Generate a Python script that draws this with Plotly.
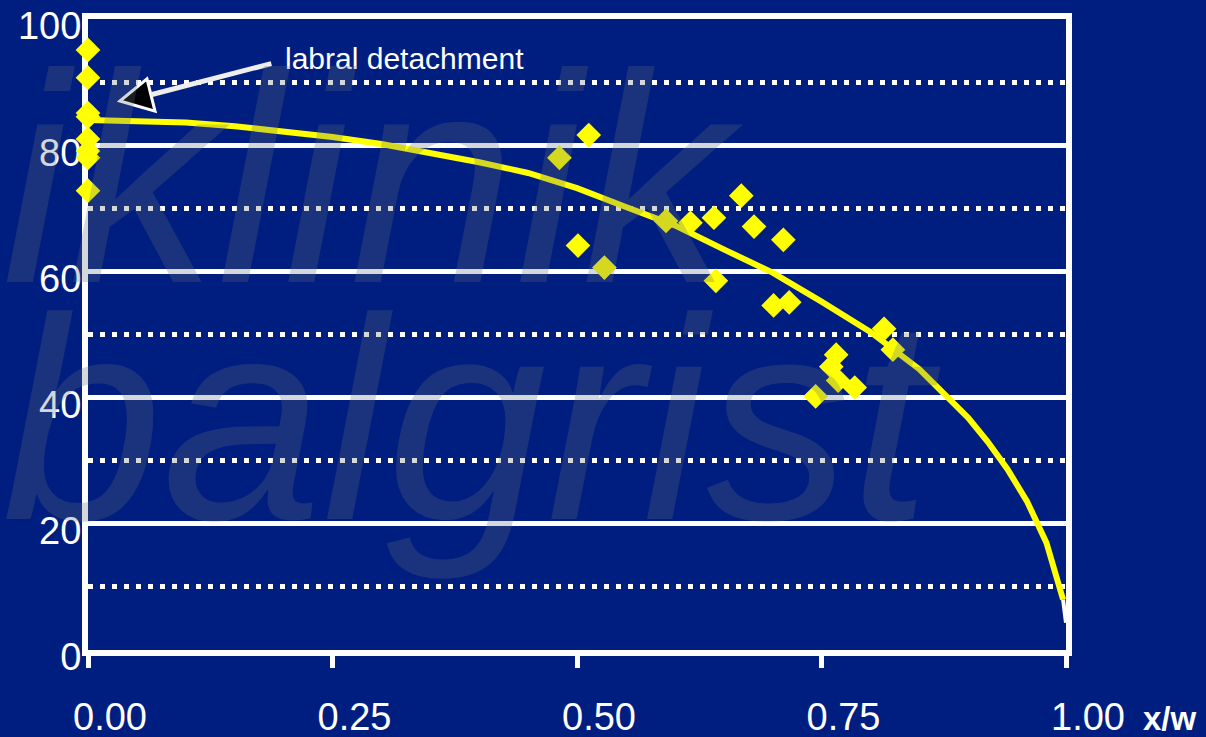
import plotly.graph_objects as go

# ---- data ----
pts_x = [0.0, 0.0, 0.0, 0.0, 0.0, 0.0, 0.0, 0.0,
         0.482, 0.512, 0.501, 0.528, 0.591, 0.616, 0.640, 0.668, 0.681, 0.711,
         0.642, 0.701, 0.717, 0.814, 0.823, 0.765, 0.760, 0.767, 0.784, 0.744]
pts_y = [95.1, 90.7, 85.1, 84.5, 81.0, 79.1, 78.0, 72.8,
         78.0, 81.6, 64.1, 60.6, 68.0, 67.7, 68.5, 72.0, 67.1, 65.0,
         58.5, 54.6, 55.1, 50.9, 47.6, 46.8, 44.9, 42.7, 41.6, 40.2]

curve_x = [0.0, 0.05, 0.10, 0.15, 0.20, 0.25, 0.30, 0.35, 0.40, 0.45, 0.50,
           0.55, 0.60, 0.65, 0.70, 0.75, 0.80, 0.85, 0.88, 0.90, 0.92, 0.94,
           0.96, 0.98, 0.997]
curve_y = [84.0, 83.9, 83.6, 83.0, 82.2, 81.3, 80.2, 78.8, 77.3, 75.6, 73.2,
           70.2, 67.3, 63.5, 59.8, 55.2, 50.4, 44.5, 40.0, 36.8, 33.0, 28.7,
           23.6, 17.0, 8.0]
tail_x = [0.997, 1.0]
tail_y = [8.0, 4.3]

x_ticks = [0.0, 0.25, 0.5, 0.75, 1.0]
x_ticklabels = ["0.00", "0.25", "0.50", "0.75", "1.00"]
y_ticks = [0, 20, 40, 60, 80, 100]
y_ticklabels = ["0", "20", "40", "60", "80", "100"]

BG = "#001E80"
YEL = "#FFFF00"
FONT = "Liberation Sans, Arial, sans-serif"

fig = go.Figure()
fig.add_trace(go.Scatter(x=curve_x, y=curve_y, mode="lines",
                         line=dict(color=YEL, width=6), cliponaxis=False,
                         hoverinfo="skip", showlegend=False))
fig.add_trace(go.Scatter(x=tail_x, y=tail_y, mode="lines",
                         line=dict(color="white", width=4), cliponaxis=False,
                         hoverinfo="skip", showlegend=False))
fig.add_trace(go.Scatter(x=pts_x, y=pts_y, mode="markers",
                         marker=dict(symbol="diamond", size=19, color=YEL,
                                     line=dict(width=0)),
                         cliponaxis=False, showlegend=False))

# arrow pointing at the labral detachment
fig.add_annotation(x=0.0644, y=88.0, ax=0.189, ay=93.0, axref="x", ayref="y",
                   xref="x", yref="y", showarrow=True, arrowhead=0,
                   arrowwidth=5, arrowcolor="#EEEEEE", text="")
fig.add_shape(type="path", xref="x", yref="y",
              path="M 0.0327 87.0 L 0.0603 90.5 L 0.0685 85.4 Z",
              fillcolor="black", line=dict(color="white", width=3))
fig.add_annotation(x=0.199, y=93.7, xref="x", yref="y", text="labral detachment",
                   showarrow=False, xanchor="left", yanchor="middle",
                   font=dict(family=FONT, size=30, color="white"))

# axis title "x/w"
fig.add_annotation(x=(1170 - 88) / 978, y=(650 - 718) / 631, xref="paper", yref="paper",
                   text="<b>x/w</b>", showarrow=False, xanchor="center", yanchor="middle",
                   font=dict(family=FONT, size=33, color="white"))

# watermark
WM = "rgba(100,110,120,0.27)"
fig.add_annotation(x=(0 - 88) / 978, y=(650 - 178) / 631, xref="paper", yref="paper",
                   text="iklinik", showarrow=False, xanchor="left", yanchor="middle",
                   font=dict(family=FONT, size=298, color=WM, style="italic"))
fig.add_annotation(x=(0 - 88) / 978, y=(650 - 420) / 631, xref="paper", yref="paper",
                   text="balgrist", showarrow=False, xanchor="left", yanchor="middle",
                   font=dict(family=FONT, size=288, color=WM, style="italic"))

fig.update_layout(
    width=1206, height=737,
    margin=dict(l=88, r=140, t=19, b=87, autoexpand=False),
    paper_bgcolor=BG, plot_bgcolor=BG,
    font=dict(family=FONT, color="white"),
    xaxis=dict(range=[0, 1], tickvals=x_ticks, ticktext=x_ticklabels,
               showgrid=False, zeroline=False, automargin=False,
               showline=True, linecolor="white", linewidth=6, mirror=True,
               ticks="outside", ticklen=12, tickwidth=5, tickcolor="white",
               tickfont=dict(size=38, color="white"),
               ticklabelshift=22, ticklabelstandoff=16,
               layer="below traces"),
    yaxis=dict(range=[0, 100], tickvals=y_ticks, ticktext=y_ticklabels,
               showgrid=True, gridcolor="white", gridwidth=5,
               zeroline=False, automargin=False,
               showline=True, linecolor="white", linewidth=6, mirror=True,
               ticks="", tickfont=dict(size=38, color="white"),
               ticklabelshift=7, ticklabelstandoff=-7, ticklabeloverflow="allow",
               minor=dict(dtick=10, tick0=0, showgrid=True, gridcolor="white",
                          gridwidth=5, griddash="5px,7px"),
               layer="below traces"),
)

fig.write_html("out.html")
